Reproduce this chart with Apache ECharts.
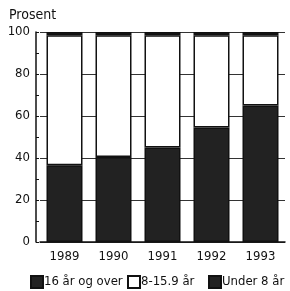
<!DOCTYPE html>
<html>
<head>
<meta charset="utf-8">
<script src="https://cdn.jsdelivr.net/npm/echarts@6/dist/echarts.min.js"></script>
<style>
  html, body { margin: 0; padding: 0; background: #fff; }
  #chart { width: 290px; height: 291px; }
</style>
</head>
<body>
<div id="chart"></div>
<script>
const years = ["1989", "1990", "1991", "1992", "1993"];
const over16 = [36.5, 40.5, 45, 54.5, 65];
const under8 = [1.5, 1.5, 1.5, 1.5, 1.5];
const mid8to16 = [62, 58, 53.5, 44, 33.5];
const legendNames = ["16 år og over", "8-15.9 år", "Under 8 år"];
const yTicks = { min: 0, max: 100, interval: 20 };

const font = "'DejaVu Sans Condensed', 'Liberation Sans Narrow', sans-serif";
const dark = "#222";
const ink = "#111";

const chart = echarts.init(document.getElementById("chart"));

const barStyle = (color) => ({
    color: color,
    borderColor: ink,
    borderWidth: 1.5,
});

// one legend per item so each sits where the reference has it
const legendLefts = [25, 122, 203];
const legends = legendNames.map((name, i) => ({
    left: legendLefts[i],
    bottom: -3,
    itemWidth: 12,
    itemHeight: 12,
    icon: "rect",
    textStyle: { fontFamily: font, fontSize: 13, color: ink, padding: [0, 0, 0, -4] },
    data: [name],
}));

chart.setOption({
    animation: false,
    title: {
        text: "Prosent",
        left: 4,
        top: 3,
        textStyle: { fontFamily: font, fontSize: 14, fontWeight: "normal", color: ink },
    },
    grid: { left: 40, right: 5, top: 32, bottom: 49 },
    legend: legends,
    xAxis: {
        type: "category",
        data: years,
        axisLine: { lineStyle: { color: ink, width: 1.5 } },
        axisTick: { show: false },
        axisLabel: { fontFamily: font, fontSize: 13, color: ink, margin: 8 },
    },
    yAxis: {
        type: "value",
        min: yTicks.min,
        max: yTicks.max,
        interval: yTicks.interval,
        offset: 4,
        axisLine: { show: true, lineStyle: { color: ink, width: 1.5 } },
        axisTick: { show: true, inside: true, length: 3, lineStyle: { color: ink } },
        minorTick: { show: true, splitNumber: 2, length: 3, lineStyle: { color: ink } },
        splitLine: { show: true, lineStyle: { color: "#333", width: 1 } },
        axisLabel: { fontFamily: font, fontSize: 13, color: ink, margin: 6 },
    },
    series: [
        { name: legendNames[0], type: "bar", stack: "all", barWidth: 36, itemStyle: barStyle(dark), data: over16 },
        { name: legendNames[1], type: "bar", stack: "all", barWidth: 36, itemStyle: barStyle("#fff"), data: mid8to16 },
        { name: legendNames[2], type: "bar", stack: "all", barWidth: 36, itemStyle: barStyle(dark), data: under8 },
    ],
});
</script>
</body>
</html>
